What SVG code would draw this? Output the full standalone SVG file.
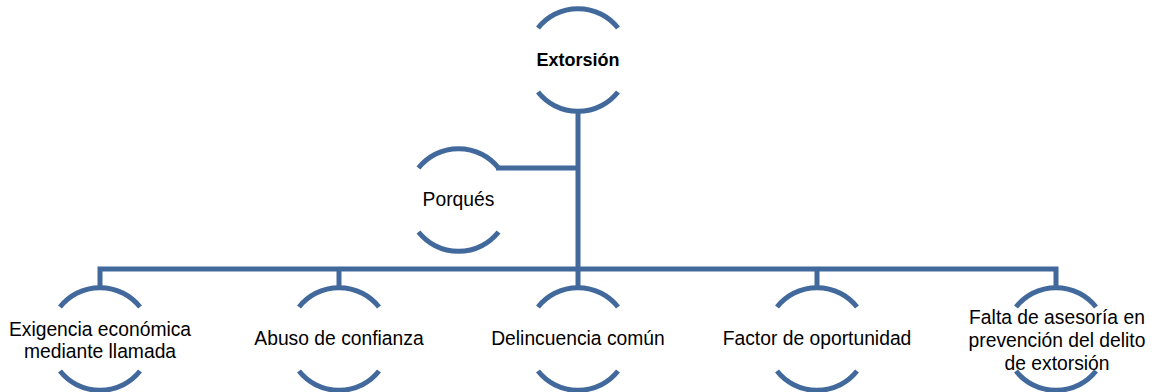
<svg xmlns="http://www.w3.org/2000/svg" width="1161" height="392" viewBox="0 0 1161 392">
<style>
.arc{fill:none;stroke:#42699C;stroke-width:5}
.conn{fill:none;stroke:#42699C;stroke-width:5;stroke-linejoin:miter}
text{font-family:"Liberation Sans",Arial,sans-serif;font-size:19.3px;fill:#000;text-anchor:middle}
.b{font-weight:bold;font-size:18px}
</style>
<rect width="1161" height="392" fill="#fff"/>
<g id="connectors">
<line class="conn" x1="578" y1="110" x2="578" y2="271"/>
<line class="conn" x1="496" y1="168" x2="580" y2="168"/>
<polyline class="conn" points="100,289 100,269 1056,269 1056,289"/>
<line class="conn" x1="339" y1="269" x2="339" y2="289"/>
<line class="conn" x1="578" y1="269" x2="578" y2="289"/>
<line class="conn" x1="817" y1="269" x2="817" y2="289"/>
</g>
<g id="node-extorsion">
<path class="arc" d="M538 28 A51 51 0 0 1 618 28"/>
<path class="arc" d="M538 92 A51 51 0 0 0 618 92"/>
<text class="b" x="578" y="66">Extorsión</text>
</g>
<g id="node-porques">
<path class="arc" d="M418.5 168 A51 51 0 0 1 498.5 168"/>
<path class="arc" d="M418.5 232 A51 51 0 0 0 498.5 232"/>
<text x="458.5" y="206">Porqués</text>
</g>
<g id="node-exigencia">
<path class="arc" d="M60 307 A51 51 0 0 1 140 307"/>
<path class="arc" d="M60 371 A51 51 0 0 0 140 371"/>
<text x="100" y="336">Exigencia económica</text>
<text x="100" y="358">mediante llamada</text>
</g>
<g id="node-abuso">
<path class="arc" d="M299 307 A51 51 0 0 1 379 307"/>
<path class="arc" d="M299 371 A51 51 0 0 0 379 371"/>
<text x="339" y="345">Abuso de confianza</text>
</g>
<g id="node-delincuencia">
<path class="arc" d="M538 307 A51 51 0 0 1 618 307"/>
<path class="arc" d="M538 371 A51 51 0 0 0 618 371"/>
<text x="578" y="345">Delincuencia común</text>
</g>
<g id="node-factor">
<path class="arc" d="M777 307 A51 51 0 0 1 857 307"/>
<path class="arc" d="M777 371 A51 51 0 0 0 857 371"/>
<text x="817" y="345">Factor de oportunidad</text>
</g>
<g id="node-falta">
<path class="arc" d="M1016 307 A51 51 0 0 1 1096 307"/>
<path class="arc" d="M1016 371 A51 51 0 0 0 1096 371"/>
<text x="1057" y="324">Falta de asesoría en</text>
<text x="1057" y="347">prevención del delito</text>
<text x="1057" y="370">de extorsión</text>
</g>
</svg>
